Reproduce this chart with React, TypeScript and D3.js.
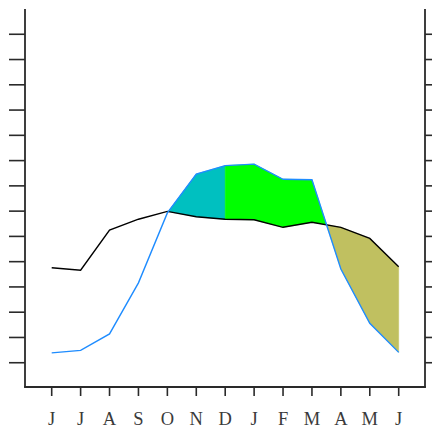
import React from "react";
import * as d3 from "d3";

const months = ["J", "J", "A", "S", "O", "N", "D", "J", "F", "M", "A", "M", "J"];
const blackSeries = [4.76, 4.66, 6.25, 6.68, 6.99, 6.78, 6.68, 6.66, 6.36, 6.56, 6.36, 5.92, 4.8];
const blueSeries = [1.39, 1.49, 2.14, 4.16, 6.93, 8.47, 8.8, 8.86, 8.26, 8.24, 4.71, 2.56, 1.41];
const yTicks = [1, 2, 3, 4, 5, 6, 7, 8, 9, 10, 11, 12, 13, 14];
const splitIndex = 6; // colour change at D

const W = 432;
const H = 428;

type P = { x: number; top: number; bot: number };

function buildSegments(a: number[], b: number[]) {
  const pts: { x: number; a: number; b: number }[] = [];
  for (let i = 0; i < a.length; i++) {
    pts.push({ x: i, a: a[i], b: b[i] });
    if (i < a.length - 1) {
      const d0 = b[i] - a[i];
      const d1 = b[i + 1] - a[i + 1];
      if (d0 * d1 < 0) {
        const t = d0 / (d0 - d1);
        const xa = a[i] + t * (a[i + 1] - a[i]);
        pts.push({ x: i + t, a: xa, b: xa });
      }
    }
  }
  pts.sort((p, q) => p.x - q.x);
  return pts;
}

export default function App() {
  const x = d3.scaleLinear().domain([0, 12]).range([51.7, 398.7]);
  const y = d3.scaleLinear().domain([0, 15]).range([388, 9]);
  const pts = buildSegments(blackSeries, blueSeries);

  const wet1: P[] = [];
  const wet2: P[] = [];
  const dry: P[] = [];
  pts.forEach((p) => {
    if (p.b >= p.a) {
      if (p.x <= splitIndex) wet1.push({ x: p.x, top: p.b, bot: p.a });
      if (p.x >= splitIndex) wet2.push({ x: p.x, top: p.b, bot: p.a });
    }
    if (p.a >= p.b) dry.push({ x: p.x, top: p.a, bot: p.b });
  });
  const area = d3
    .area<P>()
    .x((d) => x(d.x))
    .y0((d) => y(d.bot))
    .y1((d) => y(d.top));
  const dryFiltered = dry.filter((p) => p.x >= 9);
  const wet1Filtered = wet1.filter((p) => p.x >= 4);

  const line = d3
    .line<number>()
    .x((_, i) => x(i))
    .y((d) => y(d));

  const axisColor = "#2a2a2a";

  return (
    <svg
      width={W}
      height={H}
      style={{ position: "absolute", left: 0, top: 0, background: "#fff" }}
    >
      <path d={area(wet1Filtered) || ""} fill="#00C0C0" stroke="#00C0C0" strokeWidth={0.5} />
      <path d={area(wet2) || ""} fill="#00FF00" stroke="#00FF00" strokeWidth={0.5} />
      <path d={area(dryFiltered) || ""} fill="#C0C060" stroke="#C0C060" strokeWidth={0.5} />
      <path d={line(blackSeries) || ""} fill="none" stroke="#000" strokeWidth={1.4} />
      <path d={line(blueSeries) || ""} fill="none" stroke="#1E8CFF" strokeWidth={1.4} />

      <line x1={25} x2={25} y1={9} y2={387.5} stroke={axisColor} strokeWidth={1.8} />
      <line x1={425} x2={425} y1={9} y2={387.5} stroke={axisColor} strokeWidth={1.8} />
      <line x1={24.1} x2={425.9} y1={387} y2={387} stroke={axisColor} strokeWidth={1.8} />
      {yTicks.map((t) => (
        <g key={t}>
          <line x1={9} x2={25} y1={y(t)} y2={y(t)} stroke={axisColor} strokeWidth={1.6} />
          <line x1={425} x2={441} y1={y(t)} y2={y(t)} stroke={axisColor} strokeWidth={1.6} />
        </g>
      ))}
      {months.map((m, i) => (
        <g key={i}>
          <line x1={x(i)} x2={x(i)} y1={387} y2={396} stroke={axisColor} strokeWidth={1.6} />
          <text
            x={x(i)}
            y={424.5}
            textAnchor="middle"
            fontFamily="'Liberation Serif', 'DejaVu Serif', serif"
            fontSize={18.5}
            fill="#3a3a3a"
          >
            {m}
          </text>
        </g>
      ))}
    </svg>
  );
}
